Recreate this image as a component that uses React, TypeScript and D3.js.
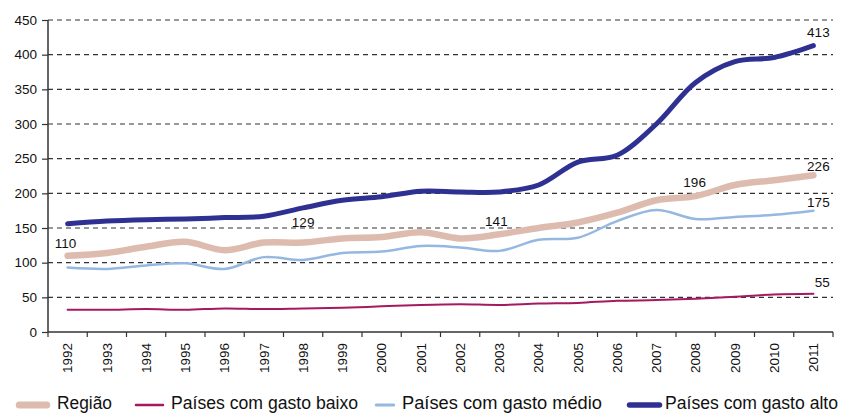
import React, { useEffect, useRef } from "react";
import * as d3 from "d3";

const years = ["1992","1993","1994","1995","1996","1997","1998","1999","2000","2001","2002","2003","2004","2005","2006","2007","2008","2009","2010","2011"];
const regiao = [110,114,123,130,118,129,129,135,137,144,135,141,150,158,172,190,196,212,219,226];
const baixo = [32,32,33,32,34,33,34,35,37,39,40,39,41,42,45,46,48,51,54,55];
const medio = [93,91,96,99,91,108,104,114,116,124,122,117,133,136,160,176,163,166,169,175];
const alto = [156,160,162,163,165,167,179,190,195,203,202,202,212,245,255,300,360,390,396,413];
const yTicks = [0,50,100,150,200,250,300,350,400,450];

// value labels: series, year index, label text
const labels = [
  { s: "regiao", i: 0, t: "110", dx: -2, dy: -8 },
  { s: "regiao", i: 6, t: "129", dx: 0, dy: -16 },
  { s: "regiao", i: 11, t: "141", dx: -3, dy: -8 },
  { s: "regiao", i: 16, t: "196", dx: -1, dy: -9 },
  { s: "regiao", i: 19, t: "226", dx: 5, dy: -4 },
  { s: "alto", i: 19, t: "413", dx: 5, dy: -9 },
  { s: "medio", i: 19, t: "175", dx: 5, dy: -4 },
  { s: "baixo", i: 19, t: "55", dx: 9, dy: -7 },
];

const series = [
  { key: "regiao", name: "Região", data: regiao, color: "#DDBCAF", width: 6.5, lx: 16, lw: 34, tx: 57, tw: 55 },
  { key: "baixo", name: "Países com gasto baixo", data: baixo, color: "#A5195F", width: 2, lx: 135, lw: 29, tx: 171, tw: 187 },
  { key: "medio", name: "Países com gasto médio", data: medio, color: "#95B8E1", width: 2.5, lx: 375, lw: 20, tx: 402, tw: 200 },
  { key: "alto", name: "Países com gasto alto", data: alto, color: "#2E3192", width: 5, lx: 627, lw: 35, tx: 665, tw: 173 },
];

export default function App() {
  const ref = useRef<SVGSVGElement>(null);

  useEffect(() => {
    const svg = d3.select(ref.current);
    svg.selectAll("*").remove();

    const left = 48, right = 833, top = 20, bottom = 332;
    const x = d3.scaleBand().domain(years).range([left, right]);
    const y = d3.scaleLinear().domain([0, 450]).range([bottom, top]);
    const cx = (i: number) => (x(years[i]) as number) + x.bandwidth() / 2;

    // grid
    svg.append("g")
      .selectAll("line")
      .data(yTicks.filter((d) => d > 0))
      .enter()
      .append("line")
      .attr("x1", left)
      .attr("x2", right)
      .attr("y1", (d) => y(d))
      .attr("y2", (d) => y(d))
      .attr("stroke", "#333")
      .attr("stroke-width", 1.2)
      .attr("stroke-dasharray", "5,4");

    // y axis
    const ya = svg.append("g")
      .attr("transform", `translate(${left},0)`)
      .call(d3.axisLeft(y).tickValues(yTicks).tickSize(6).tickPadding(5));
    ya.select(".domain").attr("stroke", "#333").attr("stroke-width", 1.5).attr("d", `M0,${top}V${bottom}`);
    ya.selectAll(".tick line").attr("stroke", "#333").attr("stroke-width", 1.2);
    ya.selectAll("text")
      .style("font-family", "'Liberation Sans', Arial, sans-serif")
      .style("font-size", "13.5px")
      .attr("fill", "#111");

    // x axis
    const xa = svg.append("g")
      .attr("transform", `translate(0,${bottom})`)
      .call(d3.axisBottom(x).tickSize(0).tickPadding(0));
    xa.select(".domain").attr("stroke", "#333").attr("stroke-width", 1.5).attr("d", `M${left},0H${right}`);
    xa.selectAll("text")
      .style("font-family", "'Liberation Sans', Arial, sans-serif")
      .style("font-size", "13.5px")
      .attr("fill", "#111")
      .attr("transform", "rotate(-90)")
      .attr("text-anchor", "end")
      .attr("x", -11)
      .attr("y", 0)
      .attr("dy", "0.35em");
    xa.selectAll(".tick line").remove();
    xa.append("g")
      .selectAll("line")
      .data(years.concat(["end"]))
      .enter()
      .append("line")
      .attr("x1", (d) => (d === "end" ? right : (x(d) as number)))
      .attr("x2", (d) => (d === "end" ? right : (x(d) as number)))
      .attr("y1", 0)
      .attr("y2", 5)
      .attr("stroke", "#333")
      .attr("stroke-width", 1.2);

    // lines
    const line = d3.line<number>()
      .x((_, i) => cx(i))
      .y((d) => y(d))
      .curve(d3.curveCatmullRom.alpha(0.5));

    series.forEach((s) => {
      svg.append("path")
        .attr("d", line(s.data))
        .attr("fill", "none")
        .attr("stroke", s.color)
        .attr("stroke-width", s.width)
        .attr("stroke-linecap", "round")
        .attr("stroke-linejoin", "round");
    });

    // value labels
    const byKey: Record<string, number[]> = { regiao, baixo, medio, alto };
    svg.append("g")
      .selectAll("text")
      .data(labels)
      .enter()
      .append("text")
      .attr("x", (d) => cx(d.i) + d.dx)
      .attr("y", (d) => y(byKey[d.s][d.i]) + d.dy)
      .attr("text-anchor", "middle")
      .style("font-family", "'Liberation Sans', Arial, sans-serif")
      .style("font-size", "13.5px")
      .attr("fill", "#111")
      .text((d) => d.t);

    // legend
    const lg = svg.append("g");
    series.forEach((s) => {
      lg.append("line")
        .attr("x1", s.lx + s.width / 2)
        .attr("x2", s.lx + s.lw - s.width / 2)
        .attr("y1", 405)
        .attr("y2", 405)
        .attr("stroke", s.color)
        .attr("stroke-width", s.width + 0.5)
        .attr("stroke-linecap", "round");
      lg.append("text")
        .attr("x", s.tx)
        .attr("y", 409)
        .attr("textLength", s.tw)
        .attr("lengthAdjust", "spacingAndGlyphs")
        .style("font-family", "'Liberation Sans', Arial, sans-serif")
        .style("font-size", "17.5px")
        .attr("fill", "#111")
        .text(s.name);
    });
  }, []);

  return (
    <svg
      ref={ref}
      width={841}
      height={413}
      style={{ position: "absolute", left: 0, top: 0, background: "#fff" }}
    ></svg>
  );
}
